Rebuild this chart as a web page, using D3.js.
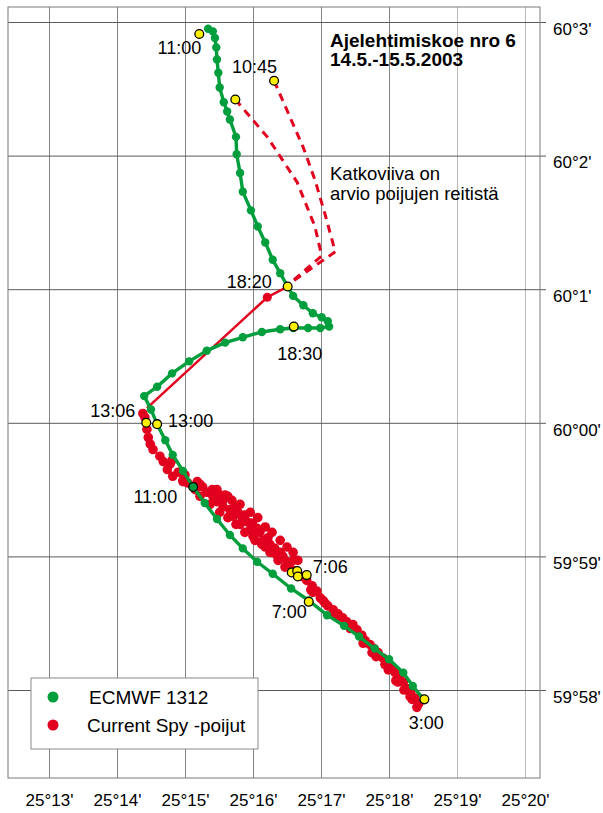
<!DOCTYPE html>
<html>
<head>
<meta charset="utf-8">
<script src="https://cdn.jsdelivr.net/npm/d3@7"></script>
<style>
  body { margin: 0; background: #fff; }
  svg { display: block; font-family: "Liberation Sans", Arial, sans-serif; }
</style>
</head>
<body>
<svg id="chart" width="603" height="813"></svg>
<script>
// Longitude in arc minutes past 25°, latitude in arc minutes past 59°
const lonTicks = [13, 14, 15, 16, 17, 18, 19, 20];
const lonLabels = ["25°13'", "25°14'", "25°15'", "25°16'", "25°17'", "25°18'", "25°19'", "25°20'"];
const latTicks = [63, 62, 61, 60, 59, 58];
const latLabels = ["60°3'", "60°2'", "60°1'", "60°00'", "59°59'", "59°58'"];

// ECMWF 1312 model drift track, half-hour steps
const ecmwfTrack = [
  [18.51,57.93],[18.35,58.03],[18.21,58.13],[18.00,58.23],[17.79,58.31],[17.56,58.40],[17.34,58.48],
  [17.09,58.56],[16.82,58.67],[16.56,58.76],[16.29,58.87],[16.06,58.96],[15.85,59.06],[15.66,59.16],
  [15.47,59.28],[15.29,59.40],[15.12,59.52],[14.97,59.64],[14.82,59.76],[14.71,59.87],[14.59,59.99],
  [14.50,60.10],[14.40,60.20],[14.59,60.27],[14.81,60.37],[15.06,60.46],[15.32,60.54],[15.59,60.60],
  [15.85,60.64],[16.13,60.68],[16.40,60.70],[16.59,60.71],[16.81,60.71],[16.99,60.71],[17.12,60.72],
  [17.10,60.76],[17.01,60.79],[16.88,60.82],[16.74,60.88],[16.59,60.95],[16.51,61.02],[16.40,61.12],
  [16.29,61.22],[16.18,61.35],[16.07,61.47],[15.97,61.59],[15.85,61.73],[15.81,61.87],[15.76,62.01],
  [15.75,62.14],[15.66,62.27],[15.62,62.33],[15.57,62.40],[15.51,62.51],[15.49,62.62],[15.47,62.72],
  [15.46,62.81],[15.44,62.88],[15.41,62.93],[15.34,62.95]
];

// Current Spy buoy fixes
const buoyFixes = [
  [14.38,60.07],[14.41,60.04],[14.44,59.95],[14.46,59.89],[14.49,59.84],[14.53,59.80],[14.63,59.75],
  [14.68,59.71],[14.74,59.65],[14.78,59.69],[14.81,59.72],[14.82,59.60],[14.90,59.63],[14.97,59.57],
  [15.04,59.55],[15.00,59.61],[14.97,59.56],[15.15,59.50],[15.18,59.56],[15.26,59.52],[15.32,59.48],
  [15.41,59.45],[15.47,59.50],[15.51,59.46],[15.47,59.41],[15.56,59.42],[15.63,59.45],[15.56,59.37],
  [15.66,59.35],[15.74,59.37],[15.78,59.33],[15.71,59.30],[15.84,59.29],[15.88,59.31],[15.91,59.26],
  [15.81,59.24],[15.99,59.25],[15.96,59.20],[16.06,59.21],[16.10,59.18],[16.00,59.15],[16.15,59.12],
  [16.22,59.14],[16.25,59.09],[16.18,59.07],[16.32,59.06],[16.40,59.03],[16.35,59.01],[16.44,59.00],
  [16.50,58.96],[16.54,58.92],[16.59,58.97],[16.29,59.03],[16.63,58.89],
  [15.22,59.54],[15.40,59.50],[15.59,59.46],[15.69,59.42],[15.81,59.39],[15.96,59.33],[16.07,59.29],
  [16.18,59.22],[16.28,59.18],[16.40,59.12],[16.50,59.07],[16.59,59.03],[16.66,58.97],
  [15.22,59.45],[15.37,59.39],[15.51,59.33],[15.63,59.29],[15.75,59.24],[15.88,59.18],[16.03,59.12],
  [16.13,59.09],[16.25,59.03],[16.37,58.97],[16.47,58.92],
  [16.72,58.85],[16.79,58.82],[16.87,58.78],[16.94,58.74],[16.99,58.69],[17.03,58.67],[17.10,58.63],
  [17.18,58.60],[17.25,58.57],[17.32,58.54],[17.38,58.51],[17.47,58.49],[17.53,58.45],[17.60,58.41],
  [17.65,58.37],[17.72,58.34],[17.78,58.31],[17.84,58.28],[17.91,58.24],[17.97,58.20],[18.03,58.17],
  [18.09,58.13],[18.15,58.10],[18.21,58.06],[18.26,58.01],[18.32,57.98],[18.38,57.94],[18.44,57.90],
  [17.99,58.15],[17.81,58.25],[17.62,58.35],[17.43,58.46],[17.21,58.56],[16.88,58.73],[18.10,58.07],
  [18.22,58.00],[18.34,57.93],[18.41,57.87],
  [16.85,58.75],[17.06,58.65],[17.25,58.55],[17.75,58.28],[17.94,58.19],[18.13,58.06],[18.31,57.95]
];

// Straight buoy leg from 13:06 to 18:20
const buoyLeg = [[14.44,60.11],[16.21,60.94],[16.51,61.02]];
const buoyLegFix = [[16.21,60.94]];

// Estimated buoy routes (dashed)
const estRouteA = [[15.74,62.42],[16.21,62.14],[16.65,61.80],[16.91,61.47],[17.01,61.25],[16.51,61.03]];
const estRouteB = [[16.31,62.56],[16.74,62.06],[16.91,61.82],[17.06,61.56],[17.21,61.28],[16.56,61.05]];

// Time marks
const timeMarks = [
  { lon: 15.21, lat: 62.91, label: "11:00" },
  { lon: 16.31, lat: 62.56, label: "10:45" },
  { lon: 15.74, lat: 62.42, label: "" },
  { lon: 16.51, lat: 61.02, label: "18:20" },
  { lon: 16.60, lat: 60.72, label: "18:30" },
  { lon: 14.43, lat: 60.00, label: "13:06" },
  { lon: 14.59, lat: 59.99, label: "13:00" },
  { lon: 16.57, lat: 58.88, label: "" },
  { lon: 16.65, lat: 58.89, label: "" },
  { lon: 16.66, lat: 58.85, label: "" },
  { lon: 16.79, lat: 58.86, label: "7:06" },
  { lon: 16.82, lat: 58.66, label: "7:00" },
  { lon: 18.52, lat: 57.93, label: "3:00" }
];
const modelMark = { lon: 15.12, lat: 59.52, label: "11:00" };

const seriesNames = ["ECMWF 1312", "Current Spy -poijut"];
const titleLines = ["Ajelehtimiskoe nro 6", "14.5.-15.5.2003"];
const noteLines = ["Katkoviiva on", "arvio poijujen reitistä"];

// ---- layout ----
const frame = { left: 8, right: 540, top: 7, bottom: 778 };
const GREEN = "#009e3d", RED = "#e2001f", YELLOW = "#fff000";

const svg = d3.select("#chart");
svg.append("rect").attr("width", 603).attr("height", 813).attr("fill", "#fff");

const x = d3.scaleLinear().domain([13, 20]).range([49, 525]);
const y = d3.scaleLinear().domain([58, 63]).range([690, 22]);

// vertical grid + bottom labels
const gx = svg.append("g")
  .attr("transform", `translate(0,${frame.bottom})`)
  .call(d3.axisBottom(x).tickValues(lonTicks)
    .tickSize(-(frame.bottom - frame.top)).tickPadding(16)
    .tickFormat((d, i) => lonLabels[i]));
gx.select(".domain").remove();
gx.selectAll(".tick line").attr("stroke", d => d >= 19 ? "#b8b8b8" : "#858585");
gx.selectAll(".tick text").attr("font-size", 17).attr("fill", "#000")
  .attr("font-family", "Liberation Sans, Arial, sans-serif");

// horizontal grid + right labels
const tickOut = 6;
const gy = svg.append("g")
  .attr("transform", `translate(${frame.right + tickOut},0)`)
  .call(d3.axisRight(y).tickValues(latTicks)
    .tickSize(-(frame.right + tickOut - frame.left)).tickPadding(7)
    .tickFormat((d, i) => latLabels[i]));
gy.select(".domain").remove();
gy.selectAll(".tick line").attr("stroke", "#5a5a5a");
gy.selectAll(".tick text").attr("font-size", 17).attr("fill", "#000").attr("dy", "0.72em")
  .attr("font-family", "Liberation Sans, Arial, sans-serif");

svg.append("rect")
  .attr("x", frame.left).attr("y", frame.top)
  .attr("width", frame.right - frame.left).attr("height", frame.bottom - frame.top)
  .attr("fill", "none").attr("stroke", "#7a7a7a").attr("stroke-width", 1);

const line = d3.line().x(d => x(d[0])).y(d => y(d[1]));

// estimated buoy routes
[estRouteA, estRouteB].forEach(r => {
  svg.append("path").attr("d", line(r)).attr("fill", "none")
    .attr("stroke", RED).attr("stroke-width", 3).attr("stroke-dasharray", "8,6");
});

// straight buoy leg
svg.append("path").attr("d", line(buoyLeg)).attr("fill", "none")
  .attr("stroke", RED).attr("stroke-width", 2.5);
svg.selectAll("circle.legfix").data(buoyLegFix).join("circle")
  .attr("class", "legfix").attr("cx", d => x(d[0])).attr("cy", d => y(d[1]))
  .attr("r", 4.5).attr("fill", RED);

// buoy fixes
svg.selectAll("circle.buoy").data(buoyFixes).join("circle")
  .attr("class", "buoy").attr("cx", d => x(d[0])).attr("cy", d => y(d[1]))
  .attr("r", 4.8).attr("fill", RED);

// model track
svg.append("path").attr("d", line(ecmwfTrack)).attr("fill", "none")
  .attr("stroke", GREEN).attr("stroke-width", 3.4).attr("stroke-linejoin", "round");
svg.selectAll("circle.model").data(ecmwfTrack).join("circle")
  .attr("class", "model").attr("cx", d => x(d[0])).attr("cy", d => y(d[1]))
  .attr("r", 4.2).attr("fill", GREEN);

// time marks
svg.selectAll("circle.mark").data(timeMarks).join("circle")
  .attr("class", "mark").attr("cx", d => x(d.lon)).attr("cy", d => y(d.lat))
  .attr("r", 4.4).attr("fill", YELLOW).attr("stroke", "#000").attr("stroke-width", 1.3);
svg.append("circle").attr("cx", x(modelMark.lon)).attr("cy", y(modelMark.lat))
  .attr("r", 4.4).attr("fill", GREEN).attr("stroke", "#000").attr("stroke-width", 1.3);

// time labels: [anchor, dx, dy] relative to each mark
const labelPlace = {
  "11:00": ["end", 2, 20], "10:45": ["end", 3, -8], "18:20": ["end", -16, 1],
  "18:30": ["middle", 6, 33], "13:06": ["end", -11, -6], "13:00": ["start", 11, 3],
  "7:06": ["start", 6, -2], "7:00": ["end", -2, 16], "3:00": ["middle", 2, 30]
};
timeMarks.filter(d => d.label).forEach(d => {
  const p = labelPlace[d.label];
  svg.append("text").attr("x", x(d.lon) + p[1]).attr("y", y(d.lat) + p[2])
    .attr("text-anchor", p[0]).attr("font-size", 18).text(d.label);
});
svg.append("text").attr("x", x(modelMark.lon) - 16).attr("y", y(modelMark.lat) + 16)
  .attr("text-anchor", "end").attr("font-size", 18).text(modelMark.label);

// title and note
titleLines.forEach((t, i) => {
  svg.append("text").attr("x", 330).attr("y", 47 + i * 19)
    .attr("font-size", 19).attr("font-weight", "bold").text(t);
});
noteLines.forEach((t, i) => {
  svg.append("text").attr("x", 330).attr("y", 180 + i * 19.5)
    .attr("font-size", 18.5).text(t);
});

// legend
const lg = svg.append("g");
lg.append("rect").attr("x", 31).attr("y", 678).attr("width", 227).attr("height", 71)
  .attr("fill", "#fff").attr("stroke", "#8a8a8a").attr("stroke-width", 1);
[GREEN, RED].forEach((c, i) => {
  lg.append("circle").attr("cx", 53).attr("cy", 697 + i * 28).attr("r", 5.5).attr("fill", c);
  lg.append("text").attr("x", i === 0 ? 89 : 87).attr("y", 704 + i * 28)
    .attr("font-size", 19).text(seriesNames[i]);
});
</script>
</body>
</html>
